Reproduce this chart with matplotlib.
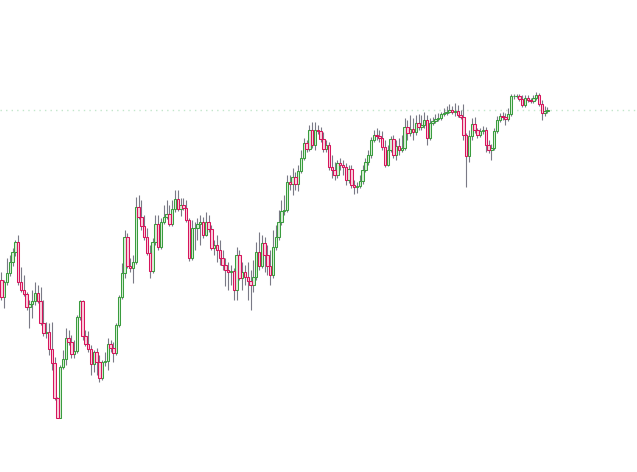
import matplotlib
matplotlib.use("Agg")
import matplotlib.pyplot as plt
import numpy as np

# prices (arbitrary units); each candle opens at the previous close
first_open = 192
closes = [175, 190, 199, 210, 220, 230, 190, 182, 178, 165, 168, 171, 179, 171, 149, 139, 140, 123, 109, 74,
          54, 105, 113, 134, 130, 118, 121, 155,
          171, 136, 128, 123, 108, 120, 110, 94, 110, 111, 128, 124, 119, 147, 175, 199, 235, 206, 204, 210,
          265, 255, 246, 235, 219, 201, 230, 248,
          225, 250, 255, 258, 248, 263, 273, 263, 267, 264, 252, 214, 244, 244, 248, 250, 237, 250, 243, 224,
          227, 222, 214, 207, 202, 200, 201, 182,
          217, 194, 200, 195, 191, 187, 195, 220, 206, 229, 217, 206, 197, 225, 235, 250, 261, 262, 290, 288,
          295, 288, 301, 314, 329, 323, 342, 327,
          342, 341, 333, 323, 327, 305, 302, 297, 309, 307, 305, 292, 303, 287, 285, 286, 291, 302, 310, 317,
          332, 337, 336, 334, 325, 307, 322, 333,
          317, 326, 322, 324, 345, 339, 343, 340, 349, 345, 347, 352, 334, 349, 351, 353, 354, 358, 359, 360,
          362, 360, 361, 357, 355, 337, 316, 336,
          348, 342, 337, 341, 342, 327, 322, 324, 341, 352, 356, 355, 353, 358, 376, 376, 376, 373, 367, 374,
          372, 371, 374, 377, 368, 359, 361, 362]
highs = [200, 192, 214, 217, 224, 232, 237, 205, 197, 180, 172, 182, 190, 187, 185, 172, 150, 149, 150, 115,
         75, 107, 122, 144, 142, 137, 132, 157,
         172, 172, 142, 141, 127, 122, 124, 117, 112, 120, 134, 132, 130, 149, 177, 209, 242, 239, 214, 217,
         275, 277, 272, 257, 244, 227, 234, 257,
         257, 254, 267, 272, 267, 272, 282, 282, 274, 274, 272, 254, 252, 250, 254, 257, 255, 260, 257, 247,
         232, 237, 232, 222, 214, 210, 207, 204,
         225, 222, 210, 207, 210, 202, 212, 230, 240, 237, 235, 227, 222, 242, 247, 262, 272, 277, 297, 297,
         304, 300, 307, 322, 334, 332, 347, 350,
         350, 347, 345, 340, 332, 330, 317, 310, 312, 314, 312, 309, 307, 307, 292, 290, 297, 307, 314, 322,
         335, 342, 344, 342, 341, 332, 327, 336,
         337, 332, 334, 337, 354, 352, 357, 354, 357, 358, 357, 360, 357, 354, 355, 358, 359, 360, 364, 366,
         368, 366, 369, 367, 362, 368, 339, 342,
         354, 355, 344, 344, 346, 345, 332, 328, 344, 356, 359, 360, 359, 364, 378, 378, 378, 378, 377, 377,
         377, 374, 377, 380, 379, 372, 366, 365]
lows = [172, 164, 187, 196, 206, 216, 187, 180, 176, 162, 144, 154, 167, 169, 147, 136, 134, 117, 102, 72,
        54, 54, 103, 107, 127, 114, 114, 119,
        152, 132, 126, 120, 97, 100, 97, 90, 92, 106, 102, 120, 110, 117, 145, 173, 194, 204, 200, 189,
        208, 253, 242, 232, 217, 194, 199, 227,
        222, 223, 248, 253, 246, 246, 260, 261, 256, 262, 250, 211, 212, 222, 232, 227, 234, 236, 240, 222,
        217, 210, 207, 202, 186, 182, 187, 172,
        172, 192, 182, 187, 172, 162, 180, 192, 202, 204, 200, 197, 187, 194, 222, 232, 247, 257, 260, 282,
        277, 282, 281, 299, 312, 320, 321, 324,
        322, 338, 330, 320, 320, 302, 294, 292, 294, 302, 297, 287, 289, 284, 278, 279, 284, 288, 300, 307,
        314, 330, 332, 330, 322, 305, 306, 320,
        314, 312, 317, 320, 322, 332, 336, 332, 337, 342, 342, 344, 327, 332, 347, 349, 351, 352, 356, 357,
        359, 358, 356, 355, 353, 332, 285, 310,
        332, 339, 334, 335, 338, 320, 319, 312, 322, 339, 350, 352, 347, 351, 356, 373, 374, 371, 365, 365,
        370, 369, 369, 372, 366, 352, 356, 359]
last_price = 362

opens = [first_open] + closes[:-1]
idx = np.arange(len(closes))
o = np.array(opens)
c = np.array(closes)
up = c >= o

fig = plt.figure(figsize=(6.37, 4.72), dpi=100)
ax = fig.add_axes([0, 0, 1, 1])
ax.axis('off')

# last price line
ax.axhline(last_price, color='#c2e6cb', linestyle=(0, (1, 3)), linewidth=1.0, zorder=1)

# wicks
ax.vlines(idx, lows, highs, color='#7a7a86', linewidth=0.8, zorder=2)

# bodies
ax.bar(idx[up], (c - o)[up], bottom=o[up], width=0.8, facecolor='#d8f0d8',
       edgecolor='#3a9c3e', linewidth=0.75, zorder=3)
ax.bar(idx[~up], (c - o)[~up], bottom=o[~up], width=0.8, facecolor='#f9d0dd',
       edgecolor='#d6145c', linewidth=0.75, zorder=3)

ax.set_xlim(-0.5, 227)
ax.set_ylim(0, 472)

fig.savefig('out.png', dpi=100)
